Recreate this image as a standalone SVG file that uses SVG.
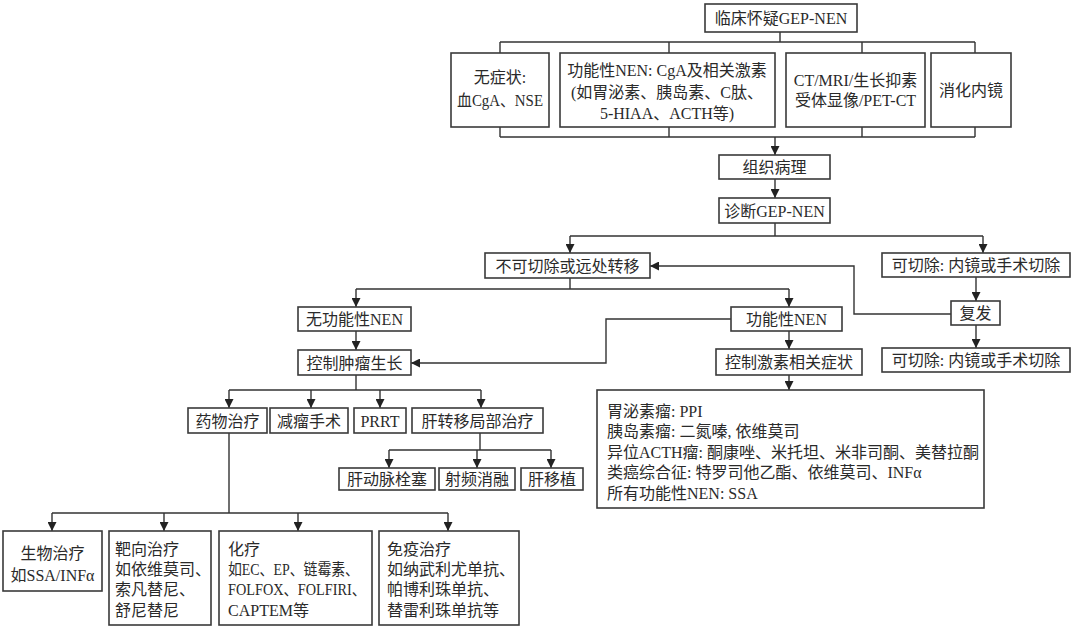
<svg xmlns="http://www.w3.org/2000/svg" width="1080" height="627" viewBox="0 0 1080 627">
<style>
rect{fill:#fff;stroke:#3a3a3a;stroke-width:1.6}
text{font-family:"Liberation Serif","Noto Sans CJK SC",serif;font-size:16px;fill:#2a2a2a}
.c{text-anchor:middle}
.ln{fill:none;stroke:#333;stroke-width:1.4}
</style>
<defs>
<marker id="ah" markerUnits="userSpaceOnUse" markerWidth="9" markerHeight="9" refX="9" refY="4.5" orient="auto" viewBox="0 0 9 9">
<path d="M0,0 L9,4.5 L0,9 Z" fill="#222"/>
</marker>
</defs>
<rect x="0" y="0" width="1080" height="627" style="fill:#fff;stroke:none"/>
<g id="connectors">
<path class="ln" d="M780,32 V42 M500,42 H975 M500,42 V53 M669,42 V53 M862,42 V53 M975,42 V53"/>
<path class="ln" d="M500,127 V137 M669,127 V137 M862,127 V137 M975,127 V137 M500,137 H975"/>
<path class="ln" d="M775,137 V155" marker-end="url(#ah)"/>
<path class="ln" d="M775,179 V198" marker-end="url(#ah)"/>
<path class="ln" d="M775,223 V236 M570,236 H983"/>
<path class="ln" d="M570,236 V253" marker-end="url(#ah)"/>
<path class="ln" d="M983,236 V253" marker-end="url(#ah)"/>
<path class="ln" d="M976,277 V301" marker-end="url(#ah)"/>
<path class="ln" d="M976,325 V348" marker-end="url(#ah)"/>
<path class="ln" d="M951,314 H854 V266 H650" marker-end="url(#ah)"/>
<path class="ln" d="M570,278 V289 M356,289 H789"/>
<path class="ln" d="M356,289 V307" marker-end="url(#ah)"/>
<path class="ln" d="M789,289 V307" marker-end="url(#ah)"/>
<path class="ln" d="M356,331 V350" marker-end="url(#ah)"/>
<path class="ln" d="M731,319 H606 V363 H411" marker-end="url(#ah)"/>
<path class="ln" d="M789,331 V349" marker-end="url(#ah)"/>
<path class="ln" d="M789,375 V390" marker-end="url(#ah)"/>
<path class="ln" d="M356,375 V390 M229,390 H481"/>
<path class="ln" d="M229,390 V408" marker-end="url(#ah)"/>
<path class="ln" d="M311,390 V408" marker-end="url(#ah)"/>
<path class="ln" d="M380,390 V408" marker-end="url(#ah)"/>
<path class="ln" d="M481,390 V408" marker-end="url(#ah)"/>
<path class="ln" d="M480,433 V450 M389,450 H551"/>
<path class="ln" d="M389,450 V468" marker-end="url(#ah)"/>
<path class="ln" d="M477,450 V468" marker-end="url(#ah)"/>
<path class="ln" d="M551,450 V468" marker-end="url(#ah)"/>
<path class="ln" d="M229,433 V513 M52,513 H448"/>
<path class="ln" d="M52,513 V531" marker-end="url(#ah)"/>
<path class="ln" d="M164,513 V531" marker-end="url(#ah)"/>
<path class="ln" d="M298,513 V531" marker-end="url(#ah)"/>
<path class="ln" d="M448,513 V531" marker-end="url(#ah)"/>
</g>
<g id="n_top"><rect x="705" y="4" width="152" height="28"/><text class="c" x="781" y="24">临床怀疑GEP-NEN</text></g>
<g id="n_asym"><rect x="451" y="53" width="98" height="74"/><text class="c" x="500" y="83">无症状:</text><text class="c" x="500" y="106" textLength="86" lengthAdjust="spacingAndGlyphs">血CgA、NSE</text></g>
<g id="n_func"><rect x="560" y="53" width="215" height="74"/><text class="c" x="667" y="76">功能性NEN: CgA及相关激素</text><text class="c" x="667" y="97.5">(如胃泌素、胰岛素、C肽、</text><text class="c" x="667" y="118.5">5-HIAA、ACTH等)</text></g>
<g id="n_img"><rect x="786" y="53" width="139" height="74"/><text class="c" x="855.5" y="86">CT/MRI/生长抑素</text><text class="c" x="855.5" y="106">受体显像/PET-CT</text></g>
<g id="n_endo"><rect x="931" y="53" width="80" height="74"/><text class="c" x="971" y="96">消化内镜</text></g>
<g id="n_path"><rect x="719" y="155" width="111" height="24"/><text class="c" x="774.5" y="173">组织病理</text></g>
<g id="n_diag"><rect x="719" y="198" width="111" height="25"/><text class="c" x="774.5" y="216.5">诊断GEP-NEN</text></g>
<g id="n_unres"><rect x="485" y="253" width="165" height="25"/><text class="c" x="567.5" y="271.5">不可切除或远处转移</text></g>
<g id="n_res1"><rect x="882" y="253" width="188" height="24"/><text class="c" x="976" y="271">可切除: 内镜或手术切除</text></g>
<g id="n_relapse"><rect x="951" y="301" width="49" height="24"/><text class="c" x="975.5" y="319">复发</text></g>
<g id="n_res2"><rect x="882" y="348" width="188" height="24"/><text class="c" x="976" y="366">可切除: 内镜或手术切除</text></g>
<g id="n_nonfunc"><rect x="298" y="307" width="113" height="24"/><text class="c" x="354.5" y="325">无功能性NEN</text></g>
<g id="n_ctrl_growth"><rect x="298" y="350" width="113" height="25"/><text class="c" x="354.5" y="368.5">控制肿瘤生长</text></g>
<g id="n_funcnen"><rect x="731" y="307" width="111" height="24"/><text class="c" x="786.5" y="325">功能性NEN</text></g>
<g id="n_ctrl_hormone"><rect x="716" y="349" width="146" height="26"/><text class="c" x="789" y="368">控制激素相关症状</text></g>
<g id="n_hormone_list"><rect x="597" y="390" width="387" height="118"/>
<text x="607" y="416.5">胃泌素瘤: PPI</text>
<text x="607" y="437">胰岛素瘤: 二氮嗪, 依维莫司</text>
<text x="607" y="457.5">异位ACTH瘤: 酮康唑、米托坦、米非司酮、美替拉酮</text>
<text x="607" y="478">类癌综合征: 特罗司他乙酯、依维莫司、INFα</text>
<text x="607" y="499">所有功能性NEN: SSA</text></g>
<g id="n_drug"><rect x="188" y="408" width="79" height="25"/><text class="c" x="227.5" y="426.5">药物治疗</text></g>
<g id="n_debulk"><rect x="270" y="408" width="78" height="25"/><text class="c" x="309" y="426.5">减瘤手术</text></g>
<g id="n_prrt"><rect x="354" y="408" width="52" height="25"/><text class="c" x="380" y="426.5">PRRT</text></g>
<g id="n_liver"><rect x="412" y="408" width="131" height="25"/><text class="c" x="477.5" y="426.5">肝转移局部治疗</text></g>
<g id="n_tace"><rect x="339" y="468" width="96" height="22"/><text class="c" x="387" y="485">肝动脉栓塞</text></g>
<g id="n_rfa"><rect x="439" y="468" width="76" height="22"/><text class="c" x="477" y="485">射频消融</text></g>
<g id="n_lt"><rect x="521" y="468" width="62" height="22"/><text class="c" x="552" y="485">肝移植</text></g>
<g id="n_bio"><rect x="3" y="531" width="99" height="60"/><text class="c" x="52.5" y="559">生物治疗</text><text class="c" x="52.5" y="581">如SSA/INFα</text></g>
<g id="n_target"><rect x="109" y="531" width="102" height="94"/><text x="115" y="555">靶向治疗</text><text x="115" y="575">如依维莫司、</text><text x="115" y="595">索凡替尼、</text><text x="115" y="616">舒尼替尼</text></g>
<g id="n_chemo"><rect x="219" y="531" width="153" height="94"/><text x="228" y="555">化疗</text><text x="228" y="575" textLength="131" lengthAdjust="spacingAndGlyphs">如EC、EP、链霉素、</text><text x="228" y="595" textLength="138" lengthAdjust="spacingAndGlyphs">FOLFOX、FOLFIRI、</text><text x="228" y="616">CAPTEM等</text></g>
<g id="n_immuno"><rect x="379" y="531" width="140" height="94"/><text x="387" y="555">免疫治疗</text><text x="387" y="575">如纳武利尤单抗、</text><text x="387" y="595">帕博利珠单抗、</text><text x="387" y="616">替雷利珠单抗等</text></g>
</svg>
